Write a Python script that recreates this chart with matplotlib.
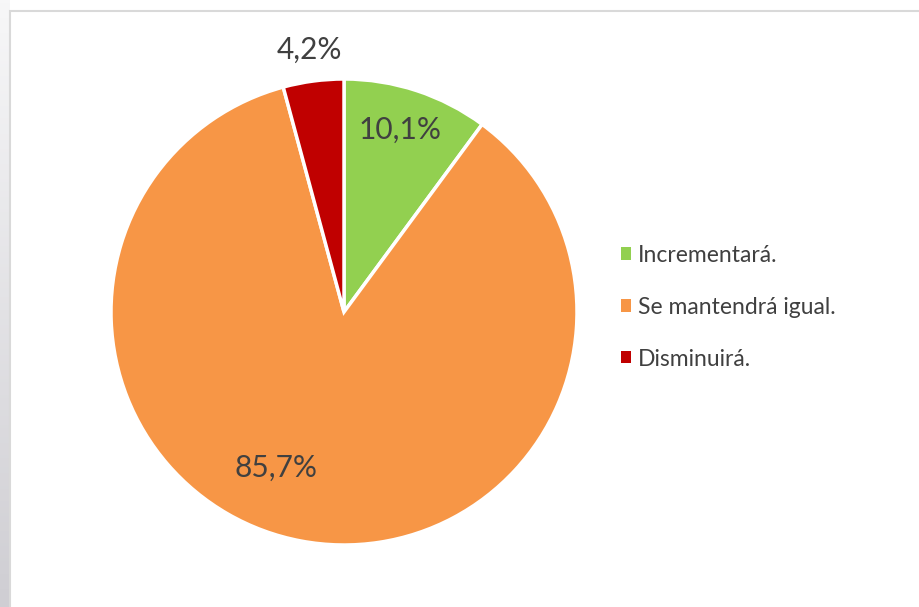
import numpy as np
import matplotlib
matplotlib.use("Agg")
from matplotlib import pyplot as plt
import matplotlib.patches as mpatches

# data
labels = ["Incrementará.", "Se mantendrá igual.", "Disminuirá."]
values = [10.1, 85.7, 4.2]
colors = ["#92D050", "#F79646", "#C00000"]
pct_text = ["10,1%", "85,7%", "4,2%"]
# where each percentage sits, in pie-radius units
label_pos = [(0.24, 0.78), (-0.29, -0.67), (-0.15, 1.125)]

W, H = 920, 607
fig = plt.figure(figsize=(W / 100, H / 100), dpi=100)
fig.patch.set_facecolor("white")

# grey strip on the left side (window background)
bg = fig.add_axes([0, 0, 1, 1])
bg.set_xlim(0, W)
bg.set_ylim(H, 0)
bg.axis("off")
grad = np.linspace(0, 1, 200).reshape(-1, 1)
bg.imshow(grad, extent=[0, 10, H, 0], cmap=matplotlib.colors.LinearSegmentedColormap.from_list(
    "g", ["#F7F7F8", "#CFCED3"]), aspect="auto", zorder=0)
bg.add_patch(mpatches.Rectangle((10.5, 10.5), W + 10, H + 10, fill=True,
                                facecolor="white", edgecolor="#D9D9D9", lw=1.5, zorder=1))

cx, cy, r = 344, 312, 233
ax = fig.add_axes([(cx - r) / W, (H - cy - r) / H, 2 * r / W, 2 * r / H])

wedges, _ = ax.pie(values, colors=colors, startangle=90, counterclock=False, radius=1,
                   wedgeprops=dict(edgecolor="white", linewidth=2.5))
ax.set_xlim(-1, 1)
ax.set_ylim(-1, 1)
ax.axis("off")

for (x, y), t in zip(label_pos, pct_text):
    ax.text(x, y, t, ha="center", va="center", fontsize=21.5, color="#404040",
            family="Lato", clip_on=False)

handles = [mpatches.Patch(facecolor=c, edgecolor="none", label=l) for c, l in zip(colors, labels)]
fig.legend(handles=handles, loc="upper left", bbox_to_anchor=(600 / W, 1 - 224 / H),
           frameon=False, handlelength=0.45, handleheight=0.45, handletextpad=0.3,
           labelspacing=1.35, prop=dict(family="Lato", size=16.5), labelcolor="#404040")

fig.savefig("out.png", dpi=100)
